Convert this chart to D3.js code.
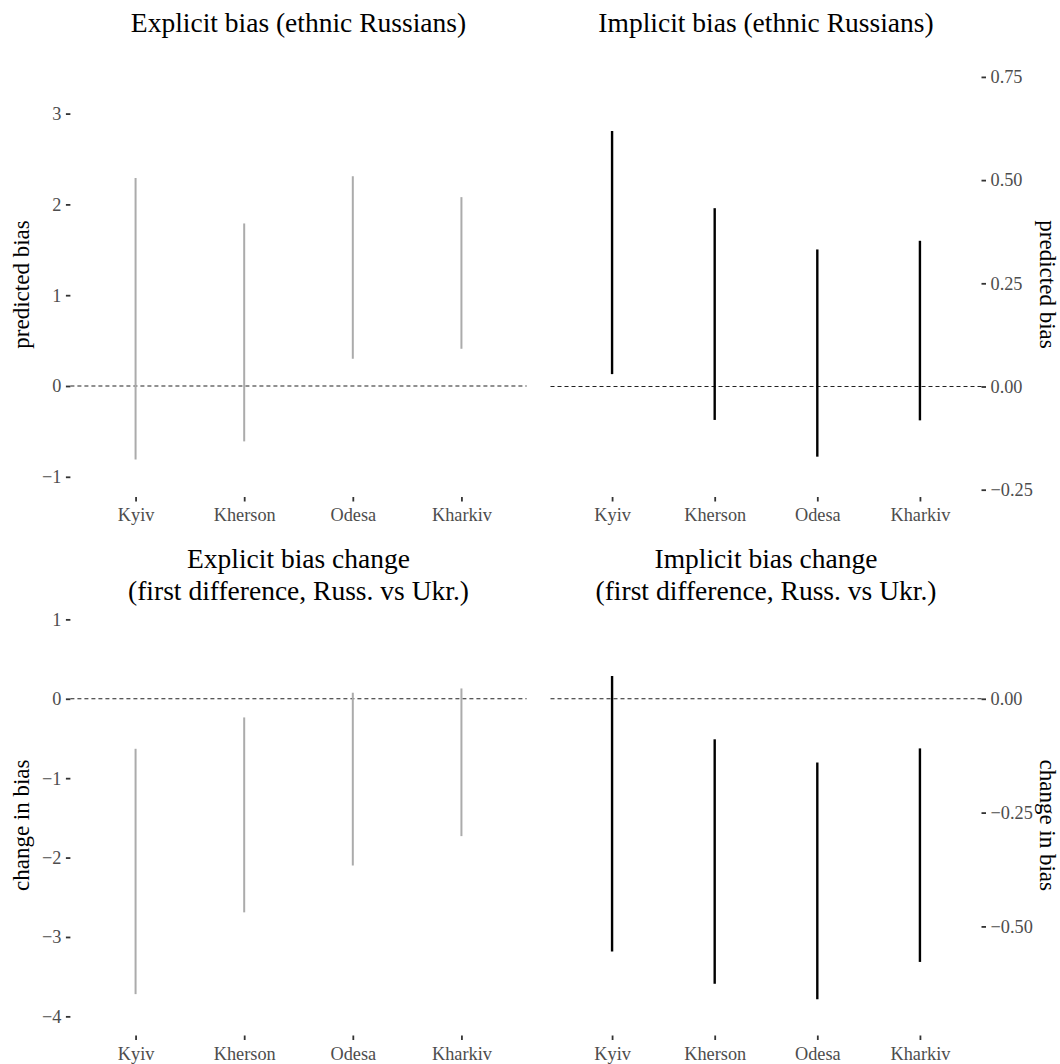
<!DOCTYPE html>
<html>
<head>
<meta charset="utf-8">
<script src="https://cdn.jsdelivr.net/npm/d3@7"></script>
<style>
  html, body { margin: 0; padding: 0; background: #ffffff; }
  svg { display: block; }
  text { font-family: "Liberation Serif", "Times New Roman", serif; }
</style>
</head>
<body>
<svg id="chart" width="1060" height="1064"></svg>
<script>
// Regions (shared by every panel)
const cities = ["Kyiv", "Kherson", "Odesa", "Kharkiv"];

// Explicit bias, ethnic Russians: interval [low, high] per city
const explicitLow  = [-0.81, -0.61, 0.30, 0.41];
const explicitHigh = [2.29, 1.79, 2.31, 2.08];

// Implicit bias, ethnic Russians
const implicitLow  = [0.030, -0.081, -0.170, -0.082];
const implicitHigh = [0.619, 0.432, 0.332, 0.353];

// Explicit bias change (first difference, Russ. vs Ukr.)
const explicitDiffLow  = [-3.72, -2.69, -2.10, -1.73];
const explicitDiffHigh = [-0.63, -0.235, 0.076, 0.13];

// Implicit bias change (first difference, Russ. vs Ukr.)
const implicitDiffLow  = [-0.555, -0.626, -0.660, -0.578];
const implicitDiffHigh = [0.050, -0.089, -0.140, -0.109];

// Axis limits and tick values
const explicitLimits = [-1.2225, 3.458];
const explicitTicks = [-1, 0, 1, 2, 3];
const implicitLimits = [-0.2677, 0.7619];
const implicitTicks = [-0.25, 0, 0.25, 0.5, 0.75];
const explicitDiffLimits = [-4.241, 1.055];
const explicitDiffTicks = [-4, -3, -2, -1, 0, 1];
const implicitDiffLimits = [-0.7396, 0.184];
const implicitDiffTicks = [-0.5, -0.25, 0];

const svg = d3.select("#chart");
const minus = s => s.replace("-", "\u2212");

const panels = [
  { title: ["Explicit bias (ethnic Russians)"], low: explicitLow, high: explicitHigh,
    limits: explicitLimits, ticks: explicitTicks, fmt: d3.format("d"),
    side: "left", yTitle: "predicted bias", color: "#ababab", width: 2,
    x0: 70.4, x1: 526.6, y0: 72, y1: 497, titleY: 32 },
  { title: ["Implicit bias (ethnic Russians)"], low: implicitLow, high: implicitHigh,
    limits: implicitLimits, ticks: implicitTicks, fmt: d3.format(".2f"),
    side: "right", yTitle: "predicted bias", color: "#000000", width: 2.4,
    x0: 550.5, x1: 981.5, y0: 72, y1: 497, titleY: 32 },
  { title: ["Explicit bias change", "(first difference, Russ. vs Ukr.)"],
    low: explicitDiffLow, high: explicitDiffHigh,
    limits: explicitDiffLimits, ticks: explicitDiffTicks, fmt: d3.format("d"),
    side: "left", yTitle: "change in bias", color: "#ababab", width: 2,
    x0: 70.4, x1: 526.6, y0: 615, y1: 1035.5, titleY: 568 },
  { title: ["Implicit bias change", "(first difference, Russ. vs Ukr.)"],
    low: implicitDiffLow, high: implicitDiffHigh,
    limits: implicitDiffLimits, ticks: implicitDiffTicks, fmt: d3.format(".2f"),
    side: "right", yTitle: "change in bias", color: "#000000", width: 2.4,
    x0: 550.5, x1: 981.5, y0: 615, y1: 1035.5, titleY: 568 }
];

panels.forEach(p => {
  const g = svg.append("g");
  const x = d3.scalePoint().domain(cities).range([p.x0, p.x1]).padding(0.6);
  const y = d3.scaleLinear().domain(p.limits).range([p.y1, p.y0]);

  // reference line at zero
  g.append("line")
    .attr("x1", p.x0).attr("x2", p.x1)
    .attr("y1", y(0)).attr("y2", y(0))
    .attr("stroke", "#222222").attr("stroke-width", 1.1)
    .attr("stroke-dasharray", "4,3");

  // interval segments
  const rows = cities.map((c, i) => ({ city: c, lo: p.low[i], hi: p.high[i] }));
  g.selectAll("line.seg").data(rows).enter().append("line")
    .attr("class", "seg")
    .attr("x1", d => x(d.city)).attr("x2", d => x(d.city))
    .attr("y1", d => y(d.lo)).attr("y2", d => y(d.hi))
    .attr("stroke", p.color).attr("stroke-width", p.width);

  // y axis
  const yAxis = (p.side === "left" ? d3.axisLeft(y) : d3.axisRight(y))
    .tickValues(p.ticks).tickSize(4.5).tickPadding(4.5)
    .tickFormat(d => minus(p.fmt(d)));
  const ya = g.append("g")
    .attr("transform", `translate(${p.side === "left" ? p.x0 : p.x1},0)`)
    .call(yAxis);
  ya.select(".domain").remove();
  ya.selectAll(".tick line").attr("stroke", "#333333").attr("stroke-width", 1.8);
  ya.selectAll(".tick text").attr("fill", "#4d4d4d")
    .style("font-family", "'Liberation Serif', serif").style("font-size", "18.3px");

  // x axis
  const xa = g.append("g")
    .attr("transform", `translate(0,${p.y1})`)
    .call(d3.axisBottom(x).tickSize(4.5).tickPadding(6.7));
  xa.select(".domain").remove();
  xa.selectAll(".tick line").attr("stroke", "#333333").attr("stroke-width", 1.8);
  xa.selectAll(".tick text").attr("fill", "#4d4d4d")
    .style("font-family", "'Liberation Serif', serif").style("font-size", "18.3px");

  // panel title
  const cx = (p.x0 + p.x1) / 2;
  p.title.forEach((t, i) => {
    g.append("text")
      .attr("x", cx).attr("y", p.titleY + i * 32)
      .attr("text-anchor", "middle")
      .style("font-size", "27.5px").attr("fill", "#000")
      .text(t);
  });

  // y axis title
  const cy = (p.y0 + p.y1) / 2;
  if (p.side === "left") {
    g.append("text")
      .attr("transform", `translate(29,${cy}) rotate(-90)`)
      .attr("text-anchor", "middle")
      .style("font-size", "23px").attr("fill", "#000")
      .text(p.yTitle);
  } else {
    g.append("text")
      .attr("transform", `translate(1040,${cy}) rotate(90)`)
      .attr("text-anchor", "middle")
      .style("font-size", "23px").attr("fill", "#000")
      .text(p.yTitle);
  }
});
</script>
</body>
</html>
